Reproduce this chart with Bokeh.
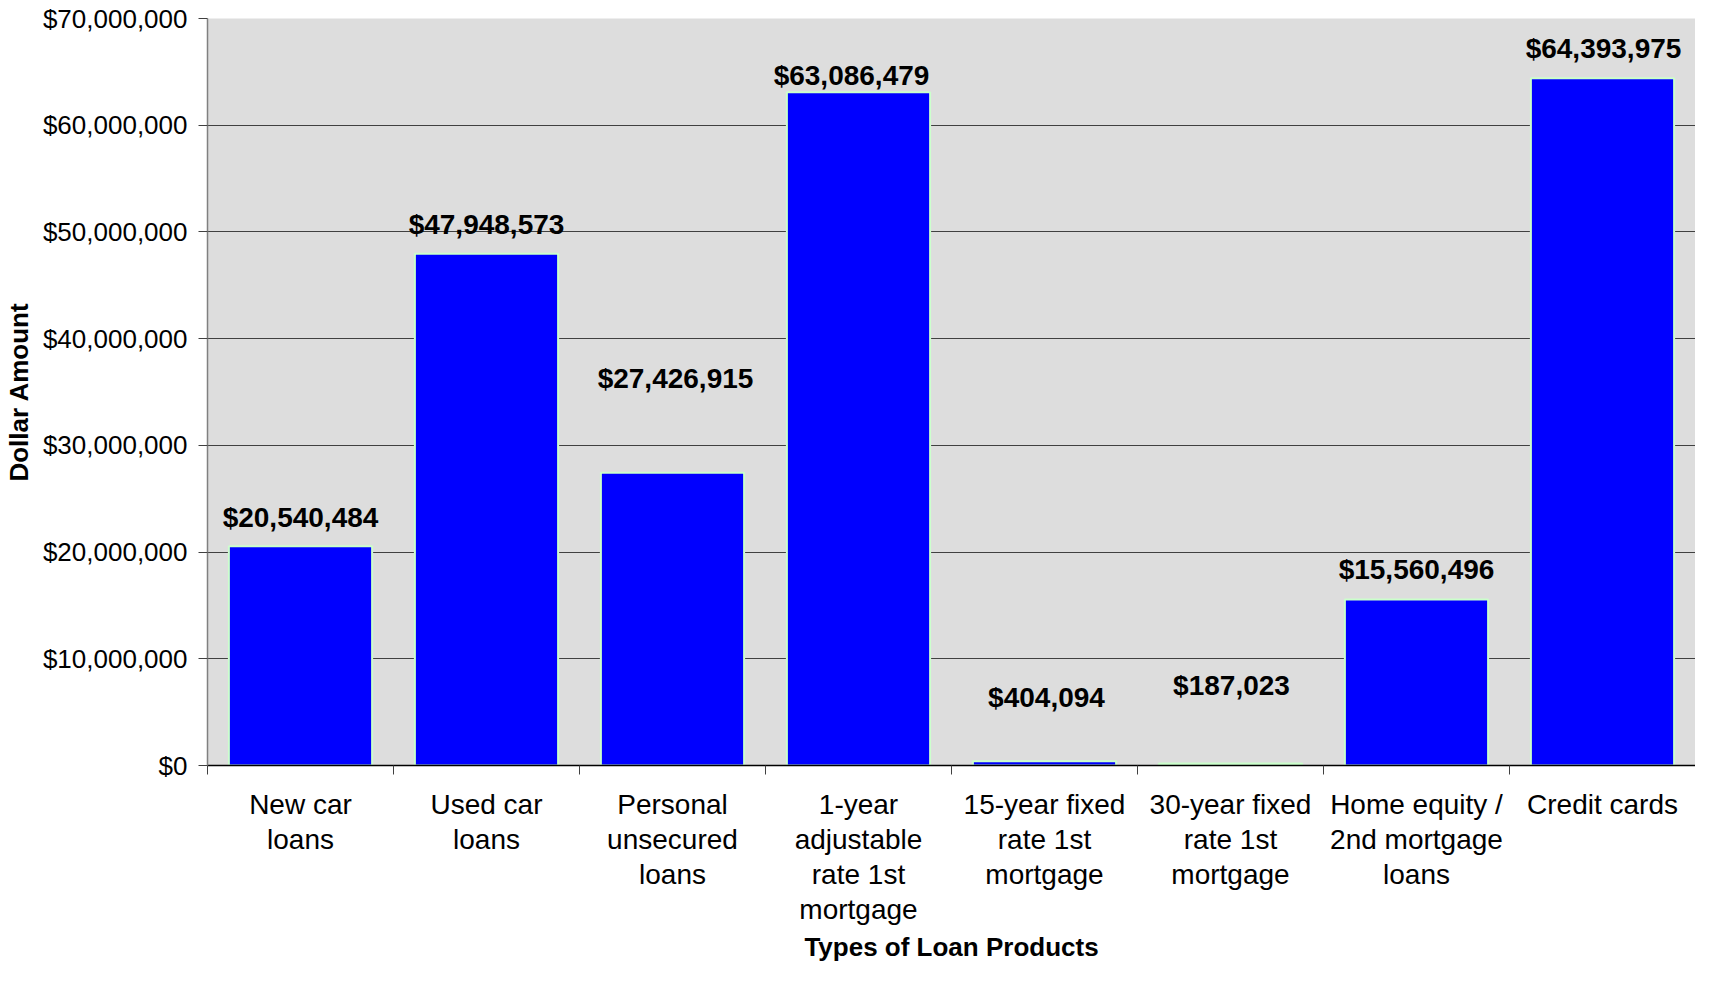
from bokeh.plotting import figure
from bokeh.models import Range1d, FixedTicker, NumeralTickFormatter, ColumnDataSource
from bokeh.core.properties import value
from bokeh.embed import file_html
from bokeh.resources import INLINE

# ---- data ----
categories = [
    "New car\nloans",
    "Used car\nloans",
    "Personal\nunsecured\nloans",
    "1-year\nadjustable\nrate 1st\nmortgage",
    "15-year fixed\nrate 1st\nmortgage",
    "30-year fixed\nrate 1st\nmortgage",
    "Home equity /\n2nd mortgage\nloans",
    "Credit cards",
]
amounts = [20540484, 47948573, 27426915, 63086479, 404094, 187023, 15560496, 64393975]
y_ticks = [0, 10000000, 20000000, 30000000, 40000000, 50000000, 60000000, 70000000]

# label placement tweaks (pixels, style only)
label_dy = [29, 29, 94, 17, 64, 78, 30, 30]
label_dx = [0, 0, 3, -7, 2, 1, 0, 1]

FONT = "Liberation Sans"
n = len(categories)
xs = [i + 0.5 for i in range(n)]

src = ColumnDataSource(dict(
    x=xs,
    top=amounts,
    txt=["${:,}".format(v) for v in amounts],
    dy=[-d for d in label_dy],
    dx=label_dx,
))

p = figure(
    width=1695, height=965,
    x_range=Range1d(0, n), y_range=Range1d(y_ticks[0], y_ticks[-1]),
    output_backend="svg", toolbar_location=None,
    min_border_left=207, min_border_right=0, min_border_top=18, min_border_bottom=190,
)
p.background_fill_color = "#DDDDDD"
p.border_fill_color = "white"
p.outline_line_color = None

p.vbar(x="x", top="top", width=0.77, source=src,
       fill_color="#0000FF", line_color="#CCFFCC", line_width=2)

p.text(x="x", y="top", text="txt", source=src, x_offset="dx", y_offset="dy",
       text_font=value(FONT), text_font_style="bold", text_font_size="28px",
       text_align="center", text_baseline="middle", text_color="black")

# y axis
ya = p.yaxis[0]
ya.ticker = FixedTicker(ticks=y_ticks)
ya.formatter = NumeralTickFormatter(format="$0,0")
ya.major_label_text_font = FONT
ya.major_label_text_font_size = "26px"
ya.major_label_text_color = "black"
ya.major_label_standoff = 11
ya.major_tick_out = 9
ya.major_tick_in = 0
ya.major_tick_line_color = "#404040"
ya.minor_tick_line_color = None
ya.axis_line_color = "#808080"
ya.axis_line_width = 1.5
ya.axis_label = "Dollar Amount"
ya.axis_label_text_font = FONT
ya.axis_label_text_font_style = "bold"
ya.axis_label_text_font_size = "26px"
ya.axis_label_text_color = "black"
ya.axis_label_text_line_height = 1.0
ya.axis_label_standoff = 6

# x axis
xa = p.xaxis[0]
xa.ticker = FixedTicker(ticks=xs, minor_ticks=list(range(n + 1)))
xa.major_label_overrides = {x: c for x, c in zip(xs, categories)}
xa.major_label_text_font = FONT
xa.major_label_text_font_size = "28px"
xa.major_label_text_color = "black"
xa.major_label_text_line_height = 1.136
xa.major_label_standoff = 14
xa.major_tick_out = 0
xa.major_tick_in = 0
xa.major_tick_line_color = None
xa.minor_tick_out = 9
xa.minor_tick_in = 0
xa.minor_tick_line_color = "#404040"
xa.axis_line_color = "black"
xa.axis_line_width = 1.5
xa.axis_label = "Types of Loan Products"
xa.axis_label_text_font = FONT
xa.axis_label_text_font_style = "bold"
xa.axis_label_text_font_size = "26px"
xa.axis_label_text_color = "black"
xa.axis_label_text_line_height = 1.0
xa.axis_label_standoff = 4

p.xgrid.visible = False
p.ygrid.ticker = FixedTicker(ticks=y_ticks[1:-1])
p.ygrid.grid_line_color = "#404040"
p.ygrid.grid_line_width = 1

open("out.html", "w").write(file_html(p, INLINE))
